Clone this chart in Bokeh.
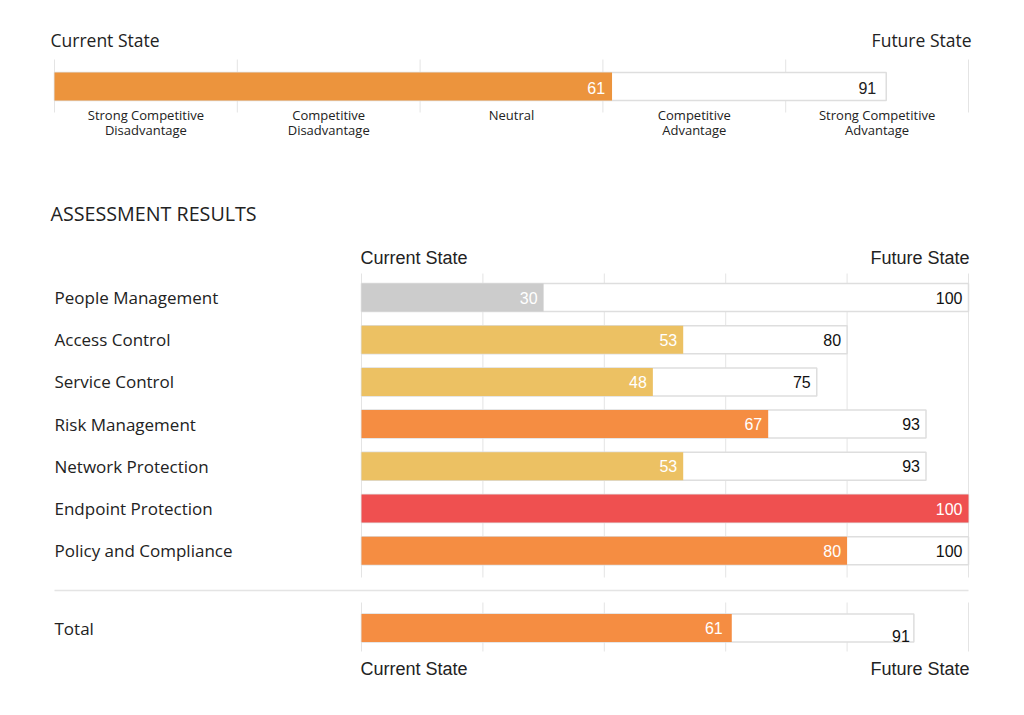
from bokeh.plotting import figure
from bokeh.models import Range1d, ColumnDataSource
from bokeh.core.properties import value
from bokeh.embed import file_html
from bokeh.resources import INLINE

# ---------------- data ----------------
scale_categories = ["Strong Competitive\nDisadvantage", "Competitive\nDisadvantage", "Neutral",
                    "Competitive\nAdvantage", "Strong Competitive\nAdvantage"]
overall_current = 61
overall_future = 91

areas = ["People Management", "Access Control", "Service Control", "Risk Management",
         "Network Protection", "Endpoint Protection", "Policy and Compliance"]
current_scores = [30, 53, 48, 67, 53, 100, 80]
future_scores = [100, 80, 75, 93, 93, 100, 100]
bar_colors = ["#cccccc", "#ecc163", "#ecc163", "#f58d42", "#ecc163", "#ef5050", "#f58d42"]

total_label = "Total"
total_current = 61
total_future = 91

grid_ticks = [0, 20, 40, 60, 80, 100]
top_ticks = [0, 20, 40, 60, 80, 100]

# ---------------- layout ----------------
W, H = 1008, 699
X0, Y0 = 0, 0          # page position of the canvas origin
TOP_L, TOP_R = 54, 968
BOT_L, BOT_R = 361, 968
kt = (TOP_R - TOP_L) / 100.0
kb = (BOT_R - BOT_L) / 100.0

TXT = "#222222"
GRID = "#e4e4e4"
BORDER = "#dedede"
LABEL_FONT = value("Open Sans")
NUM_FONT = value("Liberation Sans")

p = figure(width=W, height=H, output_backend="svg", toolbar_location=None,
           x_range=Range1d(X0, X0 + W), y_range=Range1d(Y0 + H, Y0),
           x_axis_type=None, y_axis_type=None, min_border=0,
           outline_line_color=None, background_fill_color="white",
           border_fill_color="white")
p.extra_x_ranges = {
    "top": Range1d((X0 - TOP_L) / kt, (X0 + W - TOP_L) / kt),
    "bot": Range1d((X0 - BOT_L) / kb, (X0 + W - BOT_L) / kb),
}

# ---------------- top overall bar ----------------
p.text(x=[50], y=[39], text=["Current State"], text_align="left", text_baseline="middle",
       text_font=LABEL_FONT, text_font_size="17.5px", text_color=TXT)
p.text(x=[971], y=[39], text=["Future State"], text_align="right", text_baseline="middle",
       text_font=LABEL_FONT, text_font_size="17.5px", text_color=TXT)

p.segment(x0=top_ticks, x1=top_ticks, y0=[59] * len(top_ticks), y1=[112] * len(top_ticks),
          x_range_name="top", line_color=GRID, line_width=1)
p.hbar(y=[86], left=[0], right=[overall_future], height=28, x_range_name="top",
       fill_color="white", line_color=BORDER, line_width=1.5)
p.hbar(y=[86], left=[0], right=[overall_current], height=28, x_range_name="top",
       fill_color="#ec943d", line_color=None)
p.text(x=[overall_current], y=[87], text=[str(overall_current)], x_range_name="top",
       text_align="right", text_baseline="middle", x_offset=-7,
       text_font=NUM_FONT, text_font_size="16px", text_color="white")
p.text(x=[overall_future], y=[87], text=[str(overall_future)], x_range_name="top",
       text_align="right", text_baseline="middle", x_offset=-10,
       text_font=NUM_FONT, text_font_size="16px", text_color=TXT)

cat_centers = [(top_ticks[i] + top_ticks[i + 1]) / 2 for i in range(len(scale_categories))]
p.text(x=cat_centers, y=[105] * len(cat_centers), text=scale_categories, x_range_name="top",
       text_align="center", text_baseline="top", text_line_height=0.85,
       text_font=LABEL_FONT, text_font_size="13px", text_color=TXT)

# ---------------- assessment results ----------------
p.text(x=[50], y=[213], text=["ASSESSMENT RESULTS"], text_align="left", text_baseline="middle",
       text_font=LABEL_FONT, text_font_size="19.7px", text_color=TXT)

for yy in (257, 668):
    p.text(x=[0], y=[yy], text=["Current State"], x_range_name="bot", text_align="left",
           text_baseline="middle", x_offset=-1, text_font=NUM_FONT, text_font_size="18px",
           text_color=TXT)
    p.text(x=[100], y=[yy], text=["Future State"], x_range_name="bot", text_align="right",
           text_baseline="middle", x_offset=1, text_font=NUM_FONT, text_font_size="18px",
           text_color=TXT)

p.segment(x0=grid_ticks, x1=grid_ticks, y0=[273] * len(grid_ticks), y1=[577] * len(grid_ticks),
          x_range_name="bot", line_color=GRID, line_width=1)
p.segment(x0=grid_ticks, x1=grid_ticks, y0=[602] * len(grid_ticks), y1=[651] * len(grid_ticks),
          x_range_name="bot", line_color=GRID, line_width=1)
p.segment(x0=[54], x1=[968], y0=[590], y1=[590], line_color=GRID, line_width=1.5)

row_y = [297 + i * 42.2 for i in range(len(areas))]
src = ColumnDataSource(dict(y=row_y, area=areas, cur=current_scores, fut=future_scores,
                            color=bar_colors, cur_txt=[str(v) for v in current_scores]))

p.text(x=[54] * len(areas), y=row_y, text=areas, text_align="left", text_baseline="middle",
       text_font=LABEL_FONT, text_font_size="17px", text_color=TXT)

p.hbar(y="y", left=0, right="fut", height=28, source=src, x_range_name="bot",
       fill_color="white", line_color=BORDER, line_width=1.5)
p.hbar(y="y", left=0, right="cur", height=28, source=src, x_range_name="bot",
       fill_color="color", line_color=None)
p.text(x="cur", y="y", text="cur_txt", source=src, x_range_name="bot", text_align="right",
       text_baseline="middle", x_offset=-6, text_font=NUM_FONT, text_font_size="16px",
       text_color="white")

fut_idx = [i for i in range(len(areas)) if future_scores[i] > current_scores[i]]
p.text(x=[future_scores[i] for i in fut_idx], y=[row_y[i] for i in fut_idx],
       text=[str(future_scores[i]) for i in fut_idx], x_range_name="bot", text_align="right",
       text_baseline="middle", x_offset=-6, text_font=NUM_FONT, text_font_size="16px",
       text_color="#111111")

# total
ty = 627.5
p.text(x=[54], y=[ty], text=[total_label], text_align="left", text_baseline="middle",
       text_font=LABEL_FONT, text_font_size="17px", text_color=TXT)
p.hbar(y=[ty], left=[0], right=[total_future], height=28, x_range_name="bot",
       fill_color="white", line_color=BORDER, line_width=1.5)
p.hbar(y=[ty], left=[0], right=[total_current], height=28, x_range_name="bot",
       fill_color="#f58d42", line_color=None)
p.text(x=[total_current], y=[ty], text=[str(total_current)], x_range_name="bot",
       text_align="right", text_baseline="middle", x_offset=-9,
       text_font=NUM_FONT, text_font_size="16px", text_color="white")
p.text(x=[total_future], y=[ty], text=[str(total_future)], x_range_name="bot",
       text_align="right", text_baseline="middle", x_offset=-4, y_offset=8,
       text_font=NUM_FONT, text_font_size="16px", text_color="#111111")

open("out.html", "w").write(file_html(p, INLINE))
